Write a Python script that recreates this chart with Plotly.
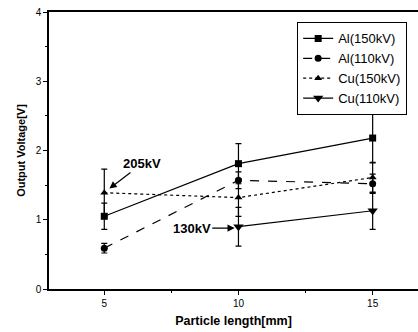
import plotly.graph_objects as go

# Particle length [mm]
length = [5, 10, 15]
length_cu110 = [10, 15]

# Output voltage [V] and error half-widths
al150 = [1.05, 1.81, 2.18]
al150_err = [0.19, 0.29, 0.36]
al110 = [0.59, 1.57, 1.52]
al110_err = [0.07, 0.12, 0.14]
cu150 = [1.39, 1.32, 1.61]
cu150_err = [0.34, 0.27, 0.22]
cu110 = [0.90, 1.13]
cu110_err = [0.28, 0.27]

series = [
    ("Al(150kV)", length, al150, al150_err, "solid", "square", 7),
    ("Al(110kV)", length, al110, al110_err, "dash", "circle", 7),
    ("Cu(150kV)", length, cu150, cu150_err, "dot", "triangle-up", 7),
    ("Cu(110kV)", length_cu110, cu110, cu110_err, "solid", "triangle-down", 9),
]

fig = go.Figure()
for name, xs, ys, errs, dash, symbol, size in series:
    fig.add_trace(go.Scatter(
        x=xs, y=ys, name=name, mode="lines+markers",
        line=dict(color="black", width=1.2, dash=dash),
        marker=dict(symbol=symbol, size=size, color="black"),
        error_y=dict(type="data", array=errs, visible=True,
                     color="black", thickness=1.2, width=3),
    ))

font = "Liberation Sans, Arial, sans-serif"

fig.update_layout(
    width=418, height=332,
    margin=dict(l=49, r=0, t=11.5, b=42.5),
    paper_bgcolor="white", plot_bgcolor="white",
    font=dict(family=font, color="black", size=10),
    showlegend=True,
    legend=dict(
        x=0.672, y=0.963, xanchor="left", yanchor="top",
        bgcolor="white", bordercolor="black", borderwidth=1.2,
        font=dict(size=13, family=font, color="black"),
        tracegroupgap=0,
    ),
    xaxis=dict(
        range=[2.94, 16.69], tickvals=[5, 10, 15],
        showline=True, linecolor="black", linewidth=1.5, mirror=True,
        ticks="outside", ticklen=4, tickwidth=1.2, tickcolor="black",
        minor=dict(dtick=2.5, tick0=0, ticks="outside", ticklen=2.5,
                   tickcolor="black", tickwidth=1),
        showgrid=False, zeroline=False,
        tickfont=dict(size=10),
        title=dict(text="<b>Particle length[mm]</b>",
                   font=dict(size=12.5), standoff=8),
    ),
    yaxis=dict(
        range=[0, 4], dtick=1,
        showline=True, linecolor="black", linewidth=1.5,
        ticks="outside", ticklen=4, tickwidth=1.2, tickcolor="black",
        minor=dict(dtick=0.5, ticks="outside", ticklen=2.5,
                   tickcolor="black", tickwidth=1),
        showgrid=False, zeroline=False,
        tickfont=dict(size=10),
        title=dict(text="<b>Output Voltage[V]</b>",
                   font=dict(size=11), standoff=8),
    ),
)

# Voltage callouts
fig.add_annotation(
    x=5.19, y=1.45, xref="x", yref="y",
    text="<b>205kV</b>", font=dict(size=13),
    showarrow=True, arrowhead=2, arrowsize=1.2, arrowwidth=1.2,
    arrowcolor="black", ax=33, ay=-25,
)
fig.add_annotation(
    x=9.86, y=0.88, xref="x", yref="y",
    text="<b>130kV</b>", font=dict(size=13),
    showarrow=True, arrowhead=2, arrowsize=1.2, arrowwidth=1.2,
    arrowcolor="black", ax=-43, ay=0,
)

fig.write_html("out.html")
